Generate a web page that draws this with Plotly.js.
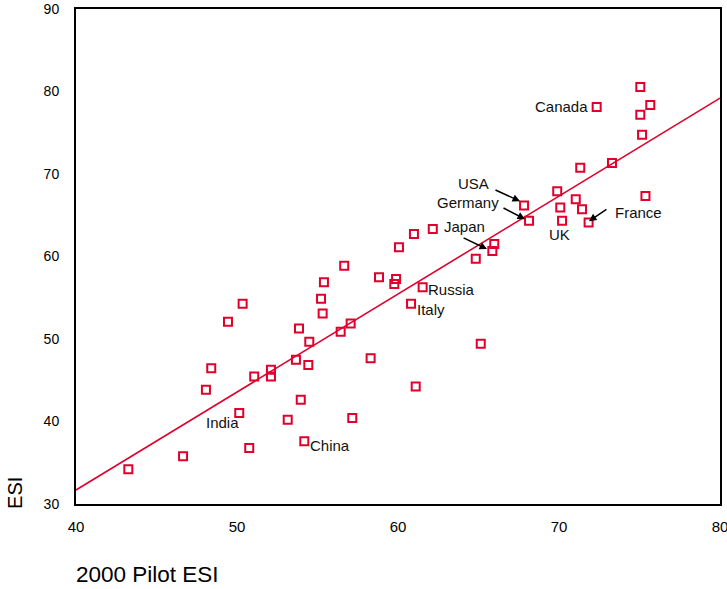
<!DOCTYPE html>
<html>
<head>
<meta charset="utf-8">
<script src="https://cdn.plot.ly/plotly-3.0.1.min.js"></script>
<style>html,body{margin:0;padding:0;background:#fff;}#chart{width:727px;height:589px;}</style>
</head>
<body>
<div id="chart"></div>
<script>
// 2000 Pilot ESI (x) vs ESI (y)
const pilotESI = [43.25,46.65,48.07,48.40,49.44,50.35,50.14,50.76,51.07,52.11,52.11,53.15,53.66,53.85,53.96,54.18,54.49,54.43,55.40,55.22,55.32,56.66,56.44,57.06,58.30,57.16,58.82,59.88,59.77,60.06,61.53,60.81,61.10,64.83,65.86,65.98,65.14,67.83,68.14,62.16,60.99,72.34,75.05,75.67,75.05,75.16,73.29,71.32,69.89,71.04,70.08,71.43,70.19,71.84,75.37];
const esi = [34.22,35.79,43.84,46.45,52.09,54.26,41.02,36.79,45.45,46.26,45.45,40.22,47.47,51.28,42.64,37.60,49.68,46.86,56.88,54.87,53.09,58.89,50.88,51.89,47.66,40.42,57.49,57.28,56.68,61.11,56.28,54.26,44.24,59.73,60.66,61.51,49.43,66.18,64.32,63.32,62.72,78.13,80.55,78.37,77.17,74.75,71.32,70.77,67.91,66.94,65.94,65.73,64.32,64.13,67.34];

// regression line end points
const fitX = [40, 80];
const fitY = [31.7, 79.2];

// tick labels
const xTicks = [40, 50, 60, 70, 80];
const yTicks = [30, 40, 50, 60, 70, 80, 90];

// plain country labels
const labelNames = ["Canada", "UK", "Russia", "Italy", "China", "India"];
const labelX = [71.95, 70.06, 63.33, 62.05, 55.78, 49.09];
const labelY = [78.13, 62.72, 55.99, 53.62, 37.04, 39.93];
const labelAnchor = ["right", "center", "center", "center", "center", "center"];

// arrow labels
const arrowNames = ["USA", "Germany", "Japan", "France"];
const arrowTextX = [64.72, 64.35, 64.10, 74.91];
const arrowTextY = [68.87, 66.58, 63.68, 65.37];
const arrowHeadX = [67.58, 67.89, 65.53, 71.86];
const arrowHeadY = [66.70, 64.53, 60.90, 64.28];
const arrowTailX = [65.96, 66.46, 63.98, 73.04];
const arrowTailY = [68.15, 65.97, 62.35, 65.85];

const red = '#e0002b';
const font = 'Liberation Sans, Arial, sans-serif';

const traces = [
  {x: fitX, y: fitY, mode: 'lines', type: 'scatter', line: {color: red, width: 1.6}, hoverinfo: 'skip'},
  {x: pilotESI, y: esi, mode: 'markers', type: 'scatter',
   marker: {symbol: 'square-open', size: 8, color: red, line: {color: red, width: 2}}}
];

const annotations = [];
labelNames.forEach((t, i) => annotations.push({
  x: labelX[i], y: labelY[i], xref: 'x', yref: 'y', text: t, showarrow: false,
  xanchor: labelAnchor[i], yanchor: 'middle', font: {family: font, size: 15, color: '#111'}
}));
arrowNames.forEach((t, i) => {
  annotations.push({x: arrowTextX[i], y: arrowTextY[i], xref: 'x', yref: 'y', text: t, showarrow: false,
    xanchor: 'center', yanchor: 'middle', font: {family: font, size: 15, color: '#111'}});
  annotations.push({x: arrowHeadX[i], y: arrowHeadY[i], xref: 'x', yref: 'y', text: '',
    showarrow: true, axref: 'x', ayref: 'y', ax: arrowTailX[i], ay: arrowTailY[i],
    arrowhead: 2, arrowsize: 1, arrowwidth: 1.5, arrowcolor: '#000', standoff: 0});
});
annotations.push({xref: 'paper', yref: 'paper', x: -0.095, y: 0.022, text: 'ESI', textangle: -90,
  showarrow: false, xanchor: 'center', yanchor: 'middle', font: {family: font, size: 20, color: '#000'}});
annotations.push({xref: 'paper', yref: 'paper', x: -0.003, y: -0.143, text: '2000 Pilot ESI',
  showarrow: false, xanchor: 'left', yanchor: 'middle', font: {family: font, size: 22.5, color: '#000'}});

const layout = {
  width: 727, height: 589,
  margin: {l: 76, r: 7, t: 9, b: 85},
  paper_bgcolor: '#fff', plot_bgcolor: '#fff',
  showlegend: false,
  xaxis: {range: [40, 80], tickvals: xTicks, ticktext: xTicks.map(String), showgrid: false, zeroline: false,
    showline: true, linecolor: '#000', linewidth: 2, mirror: true, ticks: '', ticklabelstandoff: 8,
    ticklabeloverflow: 'allow', tickfont: {family: font, size: 15, color: '#000'}},
  yaxis: {range: [30, 90], tickvals: yTicks, ticktext: yTicks.map(String), showgrid: false, zeroline: false,
    showline: true, linecolor: '#000', linewidth: 2, mirror: true, ticks: '', ticklabelstandoff: 12,
    ticklabeloverflow: 'allow', tickfont: {family: font, size: 14, color: '#000'}},
  annotations: annotations
};

Plotly.newPlot('chart', traces, layout, {displayModeBar: false, staticPlot: true});
</script>
</body>
</html>
